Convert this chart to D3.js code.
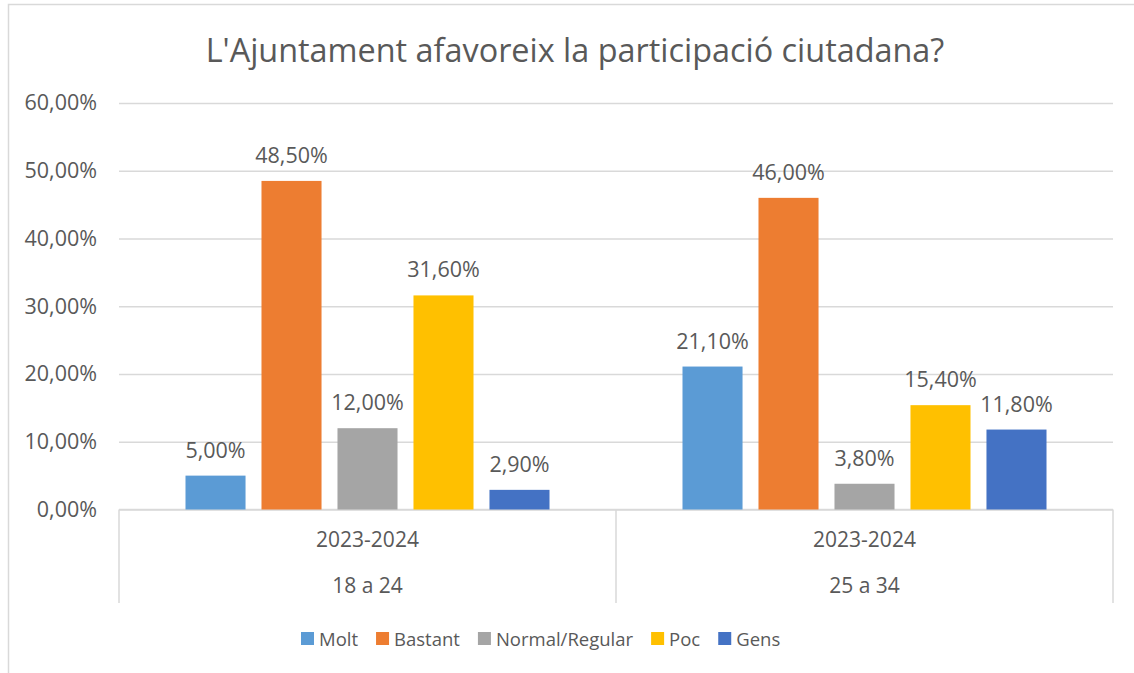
<!DOCTYPE html>
<html>
<head>
<meta charset="utf-8">
<script src="https://cdn.jsdelivr.net/npm/d3@7"></script>
<style>
  body { margin: 0; background: #fff; }
  text { font-family: "Open Sans", sans-serif; fill: #595959; }
</style>
</head>
<body>
<div id="chart"></div>
<script>
// chart data
var groups = ["18 a 24", "25 a 34"];
var period = ["2023-2024", "2023-2024"];
var seriesNames = ["Molt", "Bastant", "Normal/Regular", "Poc", "Gens"];
var seriesColors = ["#5B9BD5", "#ED7D31", "#A5A5A5", "#FFC000", "#4472C4"];
var molt = [0.050, 0.211];
var bastant = [0.485, 0.460];
var normal = [0.120, 0.038];
var poc = [0.316, 0.154];
var gens = [0.029, 0.118];
var yTicks = [0, 0.1, 0.2, 0.3, 0.4, 0.5, 0.6];

var values = [molt, bastant, normal, poc, gens];

var svgWidth = 1134;
var svgHeight = 673;

var plot = { left: 119, right: 1113, top: 103, bottom: 509.5 };

var svg = d3.select("#chart")
  .append("svg")
  .attr("width", svgWidth)
  .attr("height", svgHeight);

// chart border
svg.append("rect")
  .attr("x", 8.5).attr("y", 4.5)
  .attr("width", 1130).attr("height", 690)
  .attr("fill", "none")
  .attr("stroke", "#D9D9D9")
  .attr("stroke-width", 1.5);

// title
svg.append("text")
  .attr("x", 575)
  .attr("y", 62)
  .attr("text-anchor", "middle")
  .attr("font-size", 32.4)
  .text("L'Ajuntament afavoreix la participació ciutadana?");

// scales
var x0 = d3.scaleBand()
  .domain(d3.range(groups.length))
  .range([plot.left, plot.right]);

var x1 = d3.scaleBand()
  .domain(d3.range(seriesNames.length))
  .range([0, x0.bandwidth()])
  .paddingInner(0.21)
  .paddingOuter(0.875);

var y = d3.scaleLinear()
  .domain([0, 0.6])
  .range([plot.bottom, plot.top]);

var pct = function(v) { return d3.format(".2f")(v * 100).replace(".", ",") + "%"; };

// gridlines + y labels
var yAxis = d3.axisLeft(y)
  .tickValues(yTicks)
  .tickSize(-(plot.right - plot.left))
  .tickPadding(22)
  .tickFormat(pct);

var yg = svg.append("g")
  .attr("transform", "translate(" + plot.left + ",0)")
  .call(yAxis);
yg.select(".domain").remove();
yg.selectAll(".tick line").attr("stroke", "#D9D9D9").attr("stroke-width", 1.5);
yg.selectAll(".tick text")
  .attr("font-size", 21.5)
  .attr("font-family", "Open Sans, sans-serif")
  .attr("fill", "#595959");

// category axis lines
svg.append("line")
  .attr("x1", plot.left).attr("x2", plot.right)
  .attr("y1", plot.bottom).attr("y2", plot.bottom)
  .attr("stroke", "#D9D9D9").attr("stroke-width", 1.5);

var dividers = d3.range(groups.length + 1).map(function(i) {
  return i < groups.length ? x0(i) : x0(groups.length - 1) + x0.bandwidth();
});
svg.selectAll(".divider")
  .data(dividers)
  .enter().append("line")
  .attr("x1", d => d).attr("x2", d => d)
  .attr("y1", plot.bottom).attr("y2", 603)
  .attr("stroke", "#D9D9D9").attr("stroke-width", 1.5);

// category labels
var cat = svg.selectAll(".cat")
  .data(groups)
  .enter().append("g");
cat.append("text")
  .attr("x", (d, i) => x0(i) + x0.bandwidth() / 2)
  .attr("y", 547)
  .attr("text-anchor", "middle")
  .attr("font-size", 21)
  .text((d, i) => period[i]);
cat.append("text")
  .attr("x", (d, i) => x0(i) + x0.bandwidth() / 2)
  .attr("y", 593)
  .attr("text-anchor", "middle")
  .attr("font-size", 21)
  .text(d => d);

// bars
var series = svg.selectAll(".series")
  .data(values)
  .enter().append("g")
  .attr("fill", (d, i) => seriesColors[i]);

series.each(function(vals, si) {
  var g = d3.select(this);
  g.selectAll("rect")
    .data(vals)
    .enter().append("rect")
    .attr("x", (v, gi) => x0(gi) + x1(si))
    .attr("y", v => y(v))
    .attr("width", x1.bandwidth())
    .attr("height", v => y(0) - y(v));
  g.selectAll("text")
    .data(vals)
    .enter().append("text")
    .attr("x", (v, gi) => x0(gi) + x1(si) + x1.bandwidth() / 2)
    .attr("y", v => y(v) - 18)
    .attr("text-anchor", "middle")
    .attr("font-size", 21.5)
    .text(v => pct(v));
});

// legend
var legend = svg.append("g").attr("transform", "translate(301,639)");
var lx = 0;
seriesNames.forEach(function(name, i) {
  var item = legend.append("g").attr("transform", "translate(" + lx + ",0)");
  item.append("rect")
    .attr("x", 0).attr("y", -7)
    .attr("width", 13).attr("height", 13)
    .attr("fill", seriesColors[i]);
  var t = item.append("text")
    .attr("x", 18).attr("y", 7)
    .attr("font-size", 18.5)
    .text(name);
  lx += 18 + t.node().getComputedTextLength() + 18;
});
</script>
</body>
</html>
